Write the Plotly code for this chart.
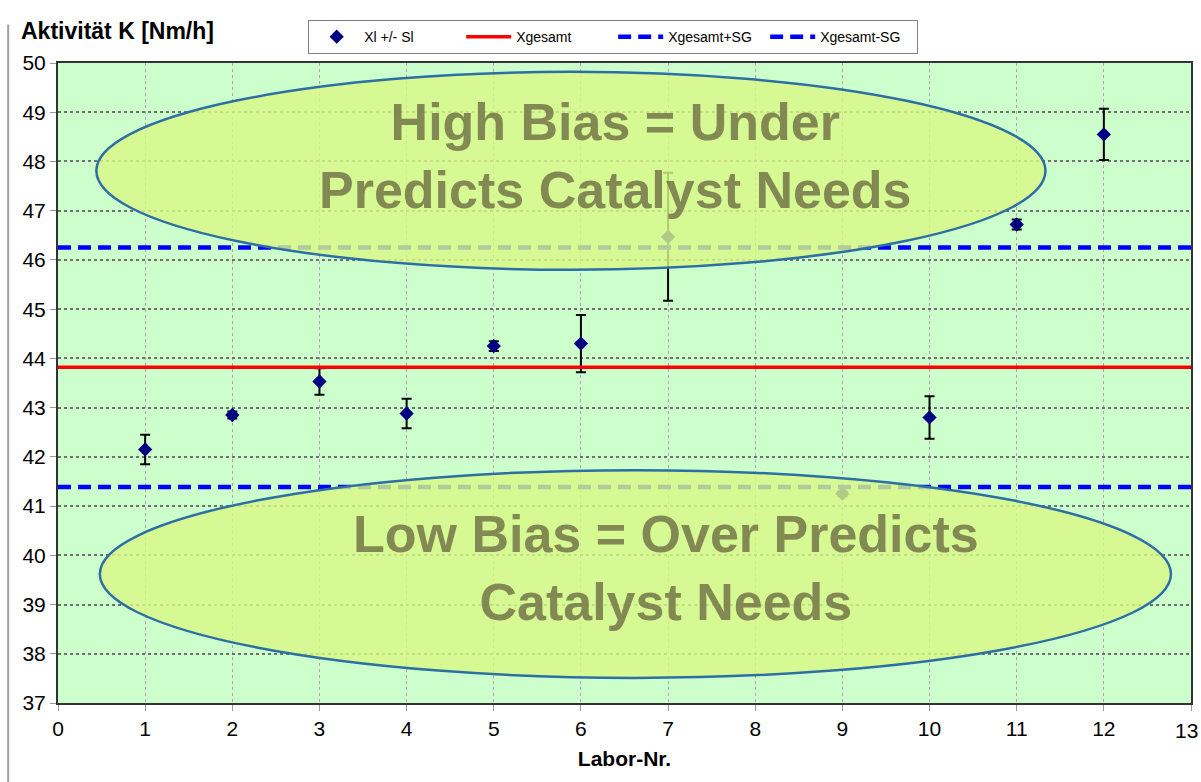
import plotly.graph_objects as go

# ---- data ----
labor = [1, 2, 3, 4, 5, 6, 7, 9, 10, 11, 12]
xi = [42.15, 42.85, 43.53, 42.88, 44.25, 44.30, 46.47, 41.25, 42.80, 46.72, 48.55]
si = [0.30, 0.07, 0.27, 0.30, 0.10, 0.58, 1.30, 0.05, 0.43, 0.10, 0.52]
x_range = [0, 13]
xgesamt = 43.82
sg = 2.43
legend_names = ["Xl +/- Sl", "Xgesamt", "Xgesamt+SG", "Xgesamt-SG"]
bias_texts = ["High Bias = Under<br>Predicts Catalyst Needs",
              "Low Bias = Over Predicts<br>Catalyst Needs"]
last_tick_label = "13"

FONT = "Liberation Sans, Arial"

fig = go.Figure()

fig.add_trace(go.Scatter(
    x=labor, y=xi, mode="markers", name=legend_names[0],
    marker=dict(symbol="diamond", size=11, color="#000080"),
    error_y=dict(type="data", array=si, visible=True, color="black",
                 thickness=2, width=5),
))
fig.add_trace(go.Scatter(
    x=x_range, y=[xgesamt, xgesamt], mode="lines", name=legend_names[1],
    line=dict(color="#FF0000", width=3.5),
))
fig.add_trace(go.Scatter(
    x=x_range, y=[xgesamt + sg, xgesamt + sg], mode="lines", name=legend_names[2],
    line=dict(color="#0000FF", width=4.5, dash="13px,7px"),
))
fig.add_trace(go.Scatter(
    x=x_range, y=[xgesamt - sg, xgesamt - sg], mode="lines", name=legend_names[3],
    line=dict(color="#0000FF", width=4.5, dash="13px,7px"),
))

ellipse_fill = "rgba(216,248,135,0.82)"
ellipse_line = dict(color="#2E6FA3", width=2.5)
fig.add_shape(type="circle", xref="x", yref="y", x0=0.44, x1=11.33, y0=45.80, y1=49.82,
              fillcolor=ellipse_fill, line=ellipse_line, layer="above")
fig.add_shape(type="circle", xref="x", yref="y", x0=0.48, x1=12.77, y0=37.51, y1=41.73,
              fillcolor=ellipse_fill, line=ellipse_line, layer="above")

text_font = dict(family="Liberation Sans, Arial", size=52, color="rgba(115,118,70,0.85)")
fig.add_annotation(x=6.40, y=48.11, xref="x", yref="y", text="<b>" + bias_texts[0] + "</b>",
                   showarrow=False, font=text_font, align="center")
fig.add_annotation(x=6.98, y=39.74, xref="x", yref="y", text="<b>" + bias_texts[1] + "</b>",
                   showarrow=False, font=text_font, align="center")

# y-axis title at top-left
fig.add_annotation(x=-0.034, y=1.027, xref="paper", yref="paper", xanchor="left", yanchor="bottom",
                   text="<b>Aktivität K [Nm/h]</b>", showarrow=False,
                   font=dict(family=FONT, size=23, color="black"))
# last x tick label (sits at the page edge in the original)
fig.add_annotation(x=13, y=-0.022, xref="x", yref="paper", xanchor="right", yanchor="top",
                   xshift=9, text=last_tick_label, showarrow=False,
                   font=dict(family=FONT, size=21, color="black"))
# left frame line
fig.add_shape(type="line", xref="paper", yref="paper", x0=-0.044, x1=-0.044, y0=-0.13, y1=1.06,
              line=dict(color="#A0A0A0", width=2))

fig.update_layout(
    width=1201, height=782,
    margin=dict(l=58, r=10, t=63, b=79, autoexpand=False),
    paper_bgcolor="white",
    plot_bgcolor="#CCFFCC",
    font=dict(family=FONT, size=21, color="black"),
    showlegend=True,
    legend=dict(orientation="h", x=0.49, xanchor="center", y=1.067, yanchor="top",
                bordercolor="#808080", borderwidth=1, bgcolor="white",
                font=dict(family=FONT, size=14), itemwidth=45, entrywidth=92,
                tracegroupgap=0),
    xaxis=dict(range=x_range, dtick=1, tick0=0, showgrid=True, gridcolor="#A8A8A8",
               griddash="dot", gridwidth=1, zeroline=False, showline=True, mirror=True,
               linecolor="#333333", linewidth=2, ticks="outside", ticklen=6,
               tickcolor="#999999", automargin=False,
               title=dict(text="<b>Labor-Nr.</b>", font=dict(size=21), standoff=12)),
    yaxis=dict(range=[37, 50], dtick=1, tick0=37, showgrid=True, gridcolor="#707070",
               griddash="dot", gridwidth=1.5, zeroline=False, showline=True, mirror=True,
               linecolor="#333333", linewidth=2, ticks="outside", ticklen=6,
               tickcolor="#999999", automargin=False),
)

fig.write_html("out.html")
